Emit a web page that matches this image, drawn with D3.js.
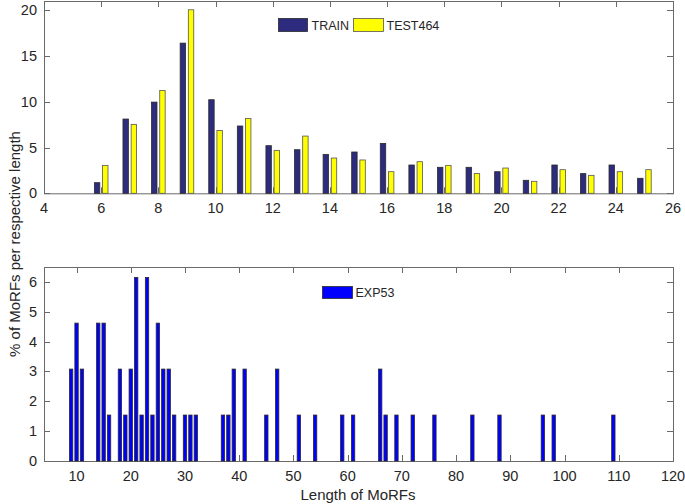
<!DOCTYPE html>
<html><head><meta charset="utf-8">
<script src="https://cdn.jsdelivr.net/npm/d3@7"></script>
<style>
body{margin:0;background:#fff;}
svg{display:block;font-family:Arial,"Liberation Sans",Helvetica,sans-serif;}
</style></head>
<body>
<svg id="chart" width="685" height="504"></svg>
<script>
// ---- Data ----
const topLengths = [6,7,8,9,10,11,12,13,14,15,16,17,18,19,20,21,22,23,24,25];
const trainValues = [1.16,8.11,9.96,16.4,10.22,7.35,5.2,4.76,4.25,4.51,5.45,3.09,2.84,2.84,2.36,1.42,3.09,2.15,3.09,1.64];
const test464Values = [3.05,7.53,11.24,20.04,6.87,8.18,4.69,6.25,3.85,3.64,2.36,3.45,3.05,2.15,2.76,1.31,2.58,1.96,2.36,2.58];
const topXTicks = [4,6,8,10,12,14,16,18,20,22,24,26];
const topYTicks = [0,5,10,15,20];

const expLengths = [9,10,11,14,15,16,18,19,20,21,22,23,24,25,26,27,28,30,31,32,37,38,39,41,45,47,51,54,59,61,66,67,69,72,76,83,88,96,98,109];
const expValues = [3.08,4.62,3.08,4.62,4.62,1.54,3.08,1.54,3.08,6.15,1.54,6.15,1.54,4.62,3.08,3.08,1.54,1.54,1.54,1.54,1.54,1.54,3.08,3.08,1.54,3.08,1.54,1.54,1.54,1.54,3.08,1.54,1.54,1.54,1.54,1.54,1.54,1.54,1.54,1.54];
const botXTicks = [10,20,30,40,50,60,70,80,90,100,110,120];
const botYTicks = [0,1,2,3,4,5,6];

const seriesNames = ["TRAIN","TEST464"];
const expName = "EXP53";
const xLabel = "Length of MoRFs";
const yLabel = "% of MoRFs per respective length";

// ---- Styles ----
const axisColor = "#6a6a6a";
const textColor = "#262626";
const trainColor = "#2d2b7e";
const testColor = "#ffff00";
const expColor = "#0000ff";
const edgeColor = "#2a2a2a";
const tickLen = 6;

const svg = d3.select("#chart");

function drawFrame(g, x, y, xTicks, yTicks) {
  const [x0, x1] = x.range();
  const [y0, y1] = y.range();
  const tg = g.append("g").attr("stroke", axisColor).attr("stroke-width", 1);
  xTicks.forEach(t => {
    const px = Math.round(x(t)) + 0.5;
    tg.append("line").attr("x1", px).attr("x2", px).attr("y1", y0).attr("y2", y0 - tickLen);
    tg.append("line").attr("x1", px).attr("x2", px).attr("y1", y1).attr("y2", y1 + tickLen);
  });
  yTicks.forEach(t => {
    const py = Math.round(y(t)) + 0.5;
    tg.append("line").attr("x1", x0).attr("x2", x0 + tickLen).attr("y1", py).attr("y2", py);
    tg.append("line").attr("x1", x1).attr("x2", x1 - tickLen).attr("y1", py).attr("y2", py);
  });
  g.append("rect").attr("x", x0 + 0.5).attr("y", y1 + 0.5)
    .attr("width", x1 - x0).attr("height", y0 - y1)
    .attr("fill", "none").attr("stroke", axisColor).attr("stroke-width", 1);
  const lg = g.append("g").attr("fill", textColor).attr("font-size", 14.5);
  xTicks.forEach(t => {
    lg.append("text").attr("x", x(t)).attr("y", y0 + 20).attr("text-anchor", "middle").text(t);
  });
  yTicks.forEach(t => {
    lg.append("text").attr("x", x0 - 7).attr("y", y(t) + 5).attr("text-anchor", "end").text(t);
  });
}

// ---- Top chart ----
const xTop = d3.scaleLinear().domain([4, 26]).range([44, 673]);
const yTop = d3.scaleLinear().domain([0, 21]).range([193.3, 1]);
const gTop = svg.append("g");
const bw = 0.19, off = 0.143;
const topData = topLengths.map((l, i) => ({l, train: trainValues[i], test: test464Values[i]}));

drawFrame(gTop, xTop, yTop, topXTicks, topYTicks);

gTop.append("g").selectAll("rect").data(topData).join("rect")
  .attr("x", d => xTop(d.l - off - bw / 2))
  .attr("width", d => xTop(bw) - xTop(0))
  .attr("y", d => yTop(d.train))
  .attr("height", d => yTop(0) - yTop(d.train))
  .attr("fill", trainColor).attr("stroke", edgeColor).attr("stroke-width", 0.8);
gTop.append("g").selectAll("rect").data(topData).join("rect")
  .attr("x", d => xTop(d.l + off - bw / 2))
  .attr("width", d => xTop(bw) - xTop(0))
  .attr("y", d => yTop(d.test))
  .attr("height", d => yTop(0) - yTop(d.test))
  .attr("fill", testColor).attr("stroke", "#555").attr("stroke-width", 0.8);

const legTop = gTop.append("g").attr("font-size", 12.5).attr("fill", textColor);
legTop.append("rect").attr("x", 278.5).attr("y", 18.5).attr("width", 29).attr("height", 13)
  .attr("fill", trainColor).attr("stroke", edgeColor).attr("stroke-width", 0.8);
legTop.append("text").attr("x", 311.5).attr("y", 29.5).text(seriesNames[0]);
legTop.append("rect").attr("x", 353.5).attr("y", 18.5).attr("width", 30).attr("height", 13)
  .attr("fill", testColor).attr("stroke", "#555").attr("stroke-width", 0.8);
legTop.append("text").attr("x", 386.5).attr("y", 29.5).text(seriesNames[1]);

// ---- Bottom chart ----
const xBot = d3.scaleLinear().domain([4, 120]).range([44, 673]);
const yBot = d3.scaleLinear().domain([0, 6.5]).range([461, 267]);
const gBot = svg.append("g");
drawFrame(gBot, xBot, yBot, botXTicks, botYTicks);

const bw2 = 0.62;
gBot.append("g").selectAll("rect").data(expLengths.map((l, i) => ({l, v: expValues[i]}))).join("rect")
  .attr("x", d => xBot(d.l - bw2 / 2))
  .attr("width", xBot(bw2) - xBot(0))
  .attr("y", d => yBot(d.v))
  .attr("height", d => yBot(0) - yBot(d.v))
  .attr("fill", expColor).attr("stroke", edgeColor).attr("stroke-width", 0.8);

const legBot = gBot.append("g").attr("font-size", 12.5).attr("fill", textColor);
legBot.append("rect").attr("x", 322.5).attr("y", 286.5).attr("width", 30).attr("height", 12)
  .attr("fill", expColor).attr("stroke", edgeColor).attr("stroke-width", 0.8);
legBot.append("text").attr("x", 355.5).attr("y", 297).text(expName);

// ---- Axis labels ----
svg.append("text").attr("x", 358).attr("y", 500).attr("text-anchor", "middle")
  .attr("font-size", 15).attr("fill", textColor).text(xLabel);
svg.append("text").attr("transform", "translate(20,244) rotate(-90)")
  .attr("text-anchor", "middle").attr("font-size", 15).attr("fill", textColor).text(yLabel);
</script>
</body></html>
